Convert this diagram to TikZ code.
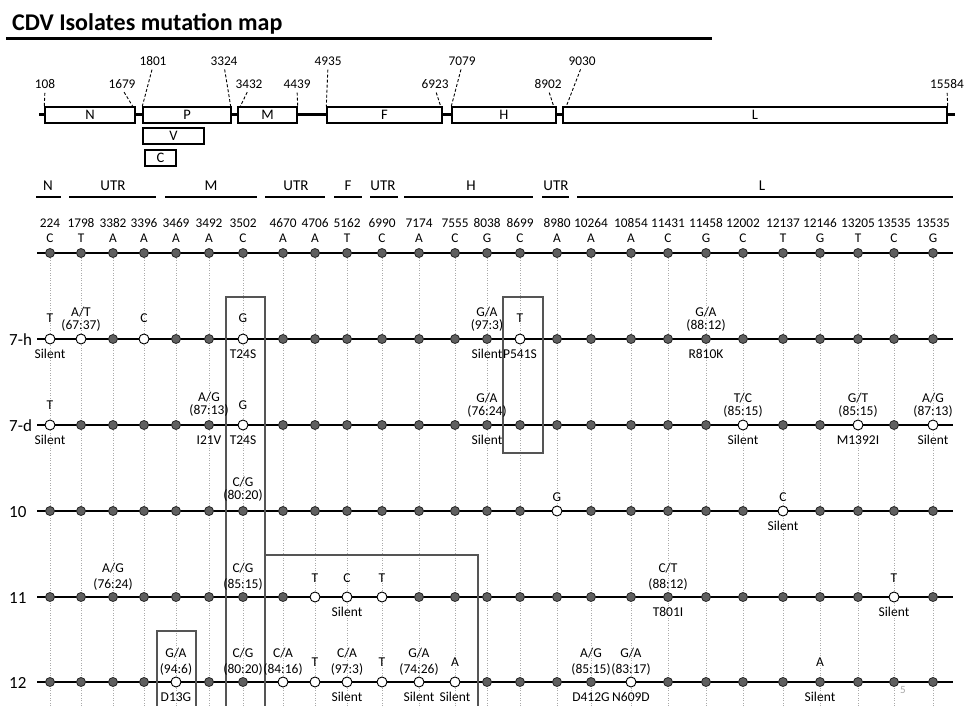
\documentclass[tikz,border=0pt]{standalone}
\usepackage{fontspec}
\setmainfont{Carlito}
\usetikzlibrary{calc,backgrounds}
\definecolor{dotgray}{RGB}{95,95,95}
\definecolor{boxgray}{RGB}{85,85,85}
\definecolor{gridgray}{RGB}{170,170,170}
\tikzset{
  fdot/.style={circle,fill=dotgray,draw=black!85,line width=0.8pt,minimum size=9pt,inner sep=0pt},
  odot/.style={circle,fill=white,draw=black,line width=0.9pt,minimum size=10pt,inner sep=0pt},
  lab/.style={font=\fontsize{13.5}{13}\selectfont,inner sep=0pt,align=center},
  labw/.style={font=\fontsize{13.5}{16.5}\selectfont,inner sep=0pt,align=center},
  numlab/.style={font=\fontsize{13.3}{14}\selectfont,inner sep=0pt},
  reglab/.style={font=\fontsize{15}{16}\selectfont,inner sep=0pt},
  rowlab/.style={font=\fontsize{17}{18}\selectfont,inner sep=0pt},
  gbox/.style={draw=black,line width=1.4pt,fill=white,minimum height=16pt,inner sep=0pt,font=\fontsize{14.5}{15}\selectfont},
  leader/.style={dashed,dash pattern=on 3pt off 2pt,line width=0.9pt,shorten <=4pt},
  hbox/.style={draw=boxgray,line width=1.9pt},
  gridln/.style={draw=gridgray,line width=0.7pt,dash pattern=on 1pt off 1.5pt},
  bbone/.style={line width=1.6pt},
}
\def\cols{1/50/224/C,2/81/1798/T,3/113/3382/A,4/144/3396/A,5/176/3469/A,6/209/3492/A,7/243/3502/C,8/283/4670/A,9/315/4706/A,10/347/5162/T,11/382/6990/C,12/419/7174/A,13/455/7555/C,14/487/8038/G,15/520/8699/C,16/557/8980/A,17/591/10264/A,18/631/10854/A,19/668/11431/C,20/706/11458/G,21/743/12002/C,22/783/12137/T,23/820/12146/G,24/858/13205/T,25/894/13535/C,26/933/13535/G}
\newcommand\abv[3][20pt]{\node[lab] (a#2) at ([yshift=#1]#2) {#3};}
\newcommand\abw[2]{\node[labw] (a#1) at ([yshift=20.5pt]#1) {#2};}
\newcommand\blw[2]{\node[lab] (b#1) at ([yshift=-15pt]#1) {#2};}
\begin{document}
\begin{tikzpicture}[x=1pt,y=-1pt]
\useasboundingbox (0,0) rectangle (964,706);
% title
\node[anchor=base west,inner sep=0pt,font=\bfseries\fontsize{24}{26}\selectfont] (title) at (12,31) {CDV Isolates mutation map};
\draw[line width=2.2pt] (6,38.5) -- (712,38.5);
% gene map
\draw[line width=3pt] (39,115) -- (955,115);
\node[gbox,minimum width=90pt] (gN) at (90,115) {N};
\node[gbox,minimum width=88pt] (gP) at (187,115) {P};
\node[gbox,minimum width=59pt] (gM) at (267.5,115) {M};
\node[gbox,minimum width=115pt] (gF) at (384.5,115) {F};
\node[gbox,minimum width=104pt] (gH) at (504,115) {H};
\node[gbox,minimum width=384pt] (gL) at (755,115) {L};
\node[gbox,minimum width=61pt] (gV) at (173.5,136) {V};
\node[gbox,minimum width=31pt] (gC) at (160.5,158) {C};
\foreach \nm/\x/\y/\tgt/\dx in {108/45/84/gN.north west/0,1679/122/84/gN.north east/-3,1801/153/61/gP.north west/0,3324/224/61/gP.north east/-1,3432/249/84/gM.north west/3,4439/297/84/gM.north east/0,4935/328/61/gF.north west/0,6923/435/84/gF.north east/-2,7079/462/61/gH.north west/0,8902/548/84/gH.north east/-3,9030/582/61/gL.north west/4,15584/947/84/gL.north east/0}
{\node[numlab] (p\nm) at (\x,\y) {\nm}; \draw[leader] (p\nm.south) -- ([xshift=\dx pt]\tgt);}
% region headers
\foreach \t/\a/\b/\c in {N/36/61/48,UTR/69/156/113,M/165/257/211,UTR/265/325/296,F/334/362/348,UTR/370/398/383,H/404/533/471,UTR/542/569/556,L/577/953/762}
{\node[reglab] (h\a) at (\c,186) {\t}; \draw[line width=1.8pt] (\a,197) -- (\b,197);}
% column numbers and bases
\foreach \i/\x/\n/\b in \cols {\node[numlab] (n\i) at (\x,223) {\n}; \node[numlab] (bs\i) at (\x,238) {\b};}
% open positions
\foreach \p in {1-1,1-2,1-4,1-7,1-15,2-1,2-7,2-21,2-24,2-26,3-16,3-22,4-9,4-10,4-11,4-25,5-5,5-8,5-9,5-10,5-11,5-12,5-13,5-18}
{\expandafter\gdef\csname op\p\endcsname{}}
% dots
\foreach \r/\y in {0/253,1/339,2/425,3/511,4/597,5/682}{
  \foreach \i/\x/\n/\b in \cols {
    \ifcsname op\r-\i\endcsname
      \node[odot] (r\r x\i) at (\x,\y) {};
    \else
      \node[fdot] (r\r x\i) at (\x,\y) {};
    \fi
  }
}
% row labels
\foreach \r/\y/\t in {1/339/7-h,2/425/7-d,3/511/10,4/597/11,5/682/12}
{\node[rowlab,anchor=base west] (rl\r) at (9,\y+6) {\t};}
% background: grid, backbones, highlight boxes
\begin{scope}[on background layer]
\foreach \i/\x/\n/\b in \cols {\coordinate (gb\i) at (\x,706); \draw[gridln] (r0x\i) -- (gb\i);}
\foreach \r/\y in {0/253,1/339,2/425,3/511,4/597,5/682}
{\coordinate (s\r) at (37,\y); \coordinate (e\r) at (953,\y); \draw[bbone] (s\r) -- (e\r);}
\draw[hbox] (226,707) -- (226,297) -- (265,297) -- (265,707);
\draw[hbox] (503,297) rectangle (543,453);
\draw[hbox] (265,707) -- (265,555) -- (478,555) -- (478,707);
\draw[hbox] (157,707) -- (157,631) -- (196,631) -- (196,707);
\end{scope}
% row 7-h
\abv[21pt]{r1x1}{T} \blw{r1x1}{Silent}
\abv{r1x2}{A/T\\(67:37)}
\abv[21pt]{r1x4}{C}
\abv[21pt]{r1x7}{G} \blw{r1x7}{T24S}
\abv{r1x14}{G/A\\(97:3)} \blw{r1x14}{Silent}
\abv[21pt]{r1x15}{T} \blw{r1x15}{P541S}
\abv{r1x20}{G/A\\(88:12)} \blw{r1x20}{R810K}
% row 7-d
\abv{r2x1}{T} \blw{r2x1}{Silent}
\abv[21pt]{r2x6}{A/G\\(87:13)} \blw{r2x6}{I21V}
\abv{r2x7}{G} \blw{r2x7}{T24S}
\abv{r2x14}{G/A\\(76:24)} \blw{r2x14}{Silent}
\abv{r2x21}{T/C\\(85:15)} \blw{r2x21}{Silent}
\abv{r2x24}{G/T\\(85:15)} \blw{r2x24}{M1392I}
\abv{r2x26}{A/G\\(87:13)} \blw{r2x26}{Silent}
% row 10
\abv[22pt]{r3x7}{C/G\\(80:20)}
\abv[14pt]{r3x16}{G}
\abv[14pt]{r3x22}{C} \blw{r3x22}{Silent}
% row 11
\abw{r4x3}{A/G\\(76:24)}
\abw{r4x7}{C/G\\(85:15)}
\abv[19pt]{r4x9}{T}
\abv[19pt]{r4x10}{C} \blw{r4x10}{Silent}
\abv[19pt]{r4x11}{T}
\abw{r4x19}{C/T\\(88:12)} \blw{r4x19}{T801I}
\abv[19pt]{r4x25}{T} \blw{r4x25}{Silent}
% row 12
\abw{r5x5}{G/A\\(94:6)} \blw{r5x5}{D13G}
\abw{r5x7}{C/G\\(80:20)}
\abw{r5x8}{C/A\\(84:16)}
\abv{r5x9}{T}
\abw{r5x10}{C/A\\(97:3)} \blw{r5x10}{Silent}
\abv{r5x11}{T}
\abw{r5x12}{G/A\\(74:26)} \blw{r5x12}{Silent}
\abv{r5x13}{A} \blw{r5x13}{Silent}
\abw{r5x17}{A/G\\(85:15)} \blw{r5x17}{D412G}
\abw{r5x18}{G/A\\(83:17)} \blw{r5x18}{N609D}
\abv{r5x23}{A} \blw{r5x23}{Silent}
% page number
\node[font=\fontsize{11}{12}\selectfont,text=gray!70,inner sep=0pt] (pg) at (903,690) {5};
\end{tikzpicture}
\end{document}
